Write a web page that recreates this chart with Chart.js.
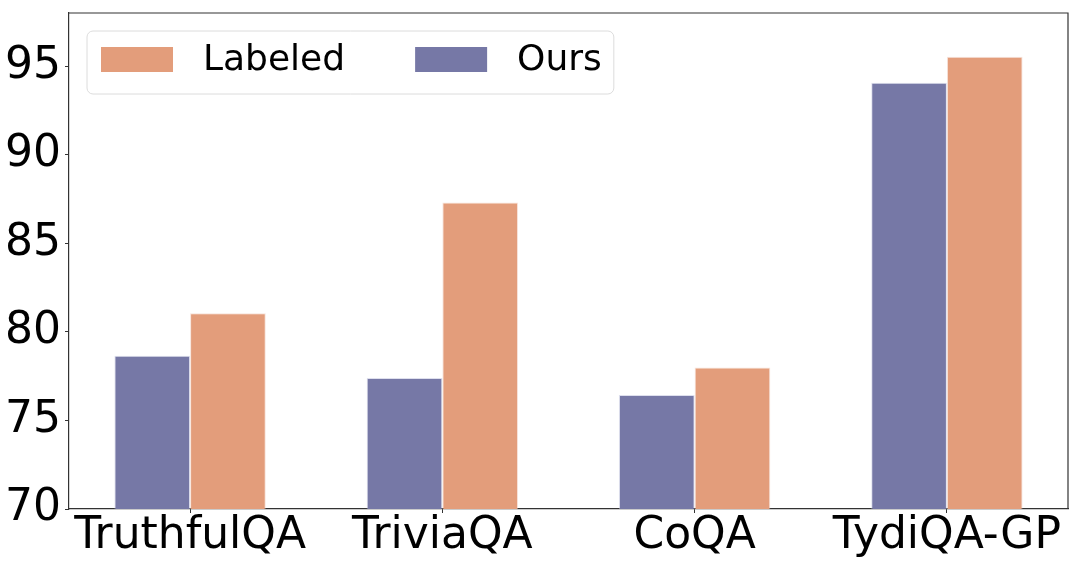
<!DOCTYPE html>
<html>
<head>
<meta charset="utf-8">
<script src="https://cdn.jsdelivr.net/npm/chart.js@4.4.1/dist/chart.umd.min.js"></script>
<style>
  html, body { margin: 0; padding: 0; background: #fff; }
  #wrap { width: 1080px; height: 561px; }
</style>
</head>
<body>
<div id="wrap"><canvas id="qaChart" width="1080" height="561"></canvas></div>
<script>
const categories = ['TruthfulQA', 'TriviaQA', 'CoQA', 'TydiQA-GP'];
const oursValues = [78.65, 77.4, 76.43, 94.06];
const labeledValues = [81.05, 87.3, 77.99, 95.53];
const yTicks = [70, 75, 80, 85, 90, 95];

const FONT = "'DejaVu Sans', sans-serif";
const AXIS_COLOR = '#333333';

// legend drawn inside the plot like matplotlib's upper-left legend
const boxLegend = {
    id: 'boxLegend',
    afterDraw(chart) {
        const { ctx, chartArea } = chart;
        // frame: top and right spines
        ctx.save();
        ctx.strokeStyle = AXIS_COLOR;
        ctx.lineWidth = 1.2;
        ctx.beginPath();
        ctx.moveTo(chartArea.left, chartArea.top);
        ctx.lineTo(chartArea.right, chartArea.top);
        ctx.lineTo(chartArea.right, chartArea.bottom);
        ctx.stroke();

        const items = chart.data.datasets.slice().reverse();
        ctx.font = '36px ' + FONT;
        const x0 = chartArea.left + 18;
        const y0 = chartArea.top + 18;
        const h = 63;
        const patchW = 72, patchH = 25;
        let x = x0 + 14;
        const pos = [];
        items.forEach((ds, i) => {
            pos.push(x);
            x += patchW + 30 + ctx.measureText(ds.label).width;
            if (i < items.length - 1) x += 70;
        });
        const w = x + 12 - x0;

        ctx.fillStyle = 'rgba(255,255,255,0.8)';
        ctx.strokeStyle = '#dcdcdc';
        ctx.lineWidth = 1;
        ctx.beginPath();
        ctx.roundRect(x0, y0, w, h, 6);
        ctx.fill();
        ctx.stroke();

        items.forEach((ds, i) => {
            ctx.fillStyle = ds.backgroundColor;
            ctx.fillRect(pos[i], y0 + 16, patchW, patchH);
            ctx.fillStyle = '#000';
            ctx.textBaseline = 'middle';
            ctx.textAlign = 'left';
            ctx.fillText(ds.label, pos[i] + patchW + 30, y0 + 16 + patchH / 2 + 1);
        });
        ctx.restore();
    }
};

new Chart(document.getElementById('qaChart'), {
    type: 'bar',
    data: {
        datasets: [
            {
                label: 'Ours',
                data: oursValues.map((v, i) => ({ x: i, y: v })),
                backgroundColor: '#7678a6',
                borderColor: 'rgba(190,192,220,0.5)',
                borderWidth: 1,
            },
            {
                label: 'Labeled',
                data: labeledValues.map((v, i) => ({ x: i, y: v })),
                backgroundColor: '#e39d7b',
                borderColor: 'rgba(240,200,182,0.5)',
                borderWidth: 1,
            }
        ]
    },
    options: {
        responsive: false,
        animation: false,
        devicePixelRatio: 1,
        layout: { padding: { top: 13, right: 12, left: 0, bottom: 0 } },
        categoryPercentage: 0.6,
        barPercentage: 1.0,
        plugins: {
            legend: { display: false },
            tooltip: { enabled: false },
        },
        scales: {
            x: {
                type: 'linear',
                offset: false,
                min: -0.48,
                max: 3.48,
                afterBuildTicks: (scale) => {
                    scale.ticks = categories.map((c, i) => ({ value: i }));
                },
                afterFit: (scale) => {
                    scale.height = 52;
                    scale.paddingLeft = 0;
                    scale.paddingRight = 0;
                },
                ticks: {
                    callback: (v) => categories[v],
                    color: '#000',
                    font: { family: FONT, size: 44 },
                    padding: -3,
                    maxRotation: 0,
                    autoSkip: false,
                },
                grid: {
                    offset: false,
                    drawOnChartArea: false,
                    color: AXIS_COLOR,
                    tickLength: 4,
                },
                border: { color: AXIS_COLOR, width: 1.2 },
            },
            y: {
                min: 70,
                max: 98,
                afterBuildTicks: (scale) => {
                    scale.ticks = yTicks.map(v => ({ value: v }));
                },
                afterFit: (scale) => {
                    scale.width = 69;
                    scale.paddingTop = 0;
                    scale.paddingBottom = 0;
                },
                ticks: {
                    color: '#000',
                    font: { family: FONT, size: 44 },
                    padding: 4,
                },
                grid: {
                    drawOnChartArea: false,
                    color: AXIS_COLOR,
                    tickLength: 4,
                },
                border: { color: AXIS_COLOR, width: 1.2 },
            }
        }
    },
    plugins: [boxLegend]
});
</script>
</body>
</html>
